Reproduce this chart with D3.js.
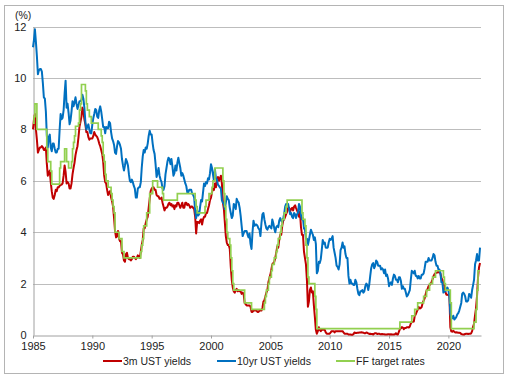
<!DOCTYPE html>
<html>
<head>
<meta charset="utf-8">
<script src="https://cdn.jsdelivr.net/npm/d3@7"></script>
<style>
  body { margin: 0; background: #fff; }
  svg { font-family: "Liberation Sans", Arial, sans-serif; }
</style>
</head>
<body>
<div id="the_chart"></div>
<script>
// monthly series, first value = Jan 1985
let startYear = 1985;

let ust3m = [
  8.0, 8.4, 8.6, 8.0, 7.6, 7.1, 7.2, 7.3, 7.3, 7.35, 7.3, 7.2,        // 1985
  7.2, 7.3, 6.7, 6.2, 6.3, 6.4, 5.95, 5.6, 5.35, 5.3, 5.45, 5.65,     // 1986
  5.6, 5.75, 5.75, 5.8, 5.85, 5.85, 5.9, 6.2, 6.6, 6.35, 5.9, 5.95,   // 1987
  5.9, 5.7, 5.7, 5.9, 6.25, 6.5, 6.7, 7.0, 7.2, 7.35, 7.7, 8.1,       // 1988
  8.3, 8.5, 8.85, 8.7, 8.4, 8.2, 7.9, 7.9, 7.7, 7.6, 7.65, 7.65,      // 1989
  7.65, 7.75, 7.9, 7.8, 7.75, 7.7, 7.6, 7.45, 7.35, 7.2, 7.05, 6.75,  // 1990
  6.2, 5.95, 5.9, 5.65, 5.45, 5.55, 5.6, 5.35, 5.2, 5.0, 4.55, 4.05,  // 1991
  3.8, 3.85, 4.05, 3.75, 3.65, 3.65, 3.2, 3.15, 2.9, 2.85, 3.15, 3.2, // 1992
  3.0, 2.95, 2.95, 2.9, 2.95, 3.05, 3.05, 3.0, 2.95, 3.0, 3.1, 3.05,  // 1993
  3.0, 3.25, 3.5, 3.7, 4.15, 4.15, 4.35, 4.5, 4.6, 4.95, 5.3, 5.6,    // 1994
  5.7, 5.75, 5.75, 5.65, 5.65, 5.45, 5.4, 5.4, 5.3, 5.3, 5.35, 5.15,  // 1995
  5.0, 4.85, 4.95, 4.95, 5.0, 5.1, 5.15, 5.05, 5.1, 5.0, 5.05, 4.9,   // 1996
  5.05, 5.0, 5.15, 5.15, 5.05, 4.95, 5.05, 5.15, 4.95, 4.95, 5.15, 5.15, // 1997
  5.05, 5.1, 5.05, 4.95, 5.0, 5.0, 4.95, 4.9, 4.6, 3.95, 4.4, 4.4,    // 1998
  4.35, 4.45, 4.5, 4.3, 4.5, 4.6, 4.6, 4.75, 4.75, 4.9, 5.05, 5.25,   // 1999
  5.35, 5.55, 5.7, 5.65, 5.9, 5.75, 6.05, 6.15, 6.0, 6.1, 6.2, 5.9,   // 2000
  5.15, 4.9, 4.4, 3.85, 3.6, 3.5, 3.5, 3.35, 2.65, 2.15, 1.85, 1.7,   // 2001
  1.65, 1.75, 1.8, 1.7, 1.75, 1.7, 1.7, 1.6, 1.65, 1.6, 1.25, 1.2,    // 2002
  1.15, 1.15, 1.15, 1.15, 1.1, 0.9, 0.9, 0.95, 0.95, 0.95, 0.95, 0.9, // 2003
  0.9, 0.95, 0.95, 0.95, 1.05, 1.3, 1.35, 1.5, 1.65, 1.75, 2.05, 2.2, // 2004
  2.35, 2.55, 2.75, 2.8, 2.85, 3.0, 3.2, 3.45, 3.4, 3.7, 3.9, 3.9,    // 2005
  4.25, 4.45, 4.5, 4.6, 4.7, 4.8, 4.95, 4.95, 4.8, 4.9, 4.95, 4.85,   // 2006
  5.0, 5.05, 4.95, 4.85, 4.75, 4.6, 4.8, 4.2, 3.9, 3.9, 3.25, 3.0,    // 2007
  2.75, 2.1, 1.1, 1.3, 1.75, 1.85, 1.65, 1.7, 1.15, 0.7, 0.2, 0.05,   // 2008
  0.15, 0.3, 0.2, 0.15, 0.2, 0.2, 0.2, 0.2, 0.1, 0.05, 0.05, 0.05,    // 2009
  0.05, 0.1, 0.15, 0.15, 0.15, 0.1, 0.15, 0.15, 0.15, 0.15, 0.15, 0.15, // 2010
  0.15, 0.15, 0.1, 0.05, 0.05, 0.05, 0.05, 0.02, 0.02, 0.02, 0.01, 0.01, // 2011
  0.03, 0.1, 0.08, 0.08, 0.09, 0.09, 0.1, 0.1, 0.11, 0.1, 0.09, 0.07, // 2012
  0.07, 0.1, 0.09, 0.06, 0.04, 0.05, 0.04, 0.04, 0.02, 0.05, 0.07, 0.07, // 2013
  0.04, 0.05, 0.05, 0.03, 0.03, 0.04, 0.03, 0.03, 0.02, 0.02, 0.02, 0.03, // 2014
  0.03, 0.02, 0.03, 0.02, 0.02, 0.02, 0.03, 0.07, 0.02, 0.02, 0.13, 0.23, // 2015
  0.26, 0.31, 0.29, 0.23, 0.27, 0.27, 0.3, 0.3, 0.29, 0.33, 0.45, 0.51, // 2016
  0.51, 0.52, 0.74, 0.8, 0.9, 0.99, 1.09, 1.03, 1.05, 1.09, 1.25, 1.34, // 2017
  1.43, 1.59, 1.73, 1.79, 1.9, 1.94, 1.99, 2.07, 2.17, 2.29, 2.37, 2.41, // 2018
  2.42, 2.44, 2.45, 2.43, 2.4, 2.22, 2.15, 1.99, 1.93, 1.68, 1.57, 1.57, // 2019
  1.55, 1.54, 0.3, 0.14, 0.13, 0.16, 0.13, 0.1, 0.11, 0.1, 0.09, 0.09, // 2020
  0.08, 0.04, 0.03, 0.02, 0.02, 0.04, 0.05, 0.05, 0.04, 0.05, 0.05, 0.06, // 2021
  0.15, 0.33, 0.44, 0.76, 1.05, 1.52, 2.23, 2.63, 2.8                 // 2022
];

let ust10y = [
  11.2, 11.5, 11.9, 11.4, 10.85, 10.15, 10.3, 10.35, 10.35, 10.25, 9.8, 9.25, // 1985
  9.2, 8.7, 7.8, 7.3, 7.7, 7.8, 7.3, 7.15, 7.45, 7.45, 7.25, 7.1,     // 1986
  7.1, 7.25, 7.25, 8.0, 8.6, 8.4, 8.45, 8.75, 9.4, 9.9, 8.85, 9.0,    // 1987
  8.65, 8.2, 8.35, 8.7, 9.1, 8.9, 9.05, 9.25, 9.0, 8.8, 8.95, 9.1,    // 1988
  9.1, 9.15, 9.35, 9.2, 8.85, 8.3, 8.0, 8.1, 8.2, 8.0, 7.85, 7.85,    // 1989
  8.2, 8.45, 8.6, 8.8, 8.75, 8.5, 8.45, 8.75, 8.9, 8.7, 8.4, 8.1,     // 1990
  8.1, 7.85, 8.1, 8.05, 8.05, 8.3, 8.25, 7.9, 7.65, 7.55, 7.4, 7.1,   // 1991
  7.05, 7.35, 7.55, 7.5, 7.4, 7.25, 6.85, 6.6, 6.4, 6.6, 6.85, 6.75,  // 1992
  6.6, 6.25, 6.0, 5.95, 6.05, 5.95, 5.8, 5.7, 5.35, 5.35, 5.7, 5.75,  // 1993
  5.75, 5.95, 6.5, 6.95, 7.2, 7.1, 7.3, 7.25, 7.45, 7.75, 7.95, 7.8,  // 1994
  7.8, 7.45, 7.2, 7.05, 6.65, 6.15, 6.3, 6.5, 6.2, 6.05, 5.95, 5.7,   // 1995
  5.65, 5.8, 6.25, 6.5, 6.75, 6.9, 6.85, 6.65, 6.85, 6.55, 6.2, 6.3,  // 1996
  6.6, 6.4, 6.7, 6.9, 6.7, 6.5, 6.2, 6.3, 6.2, 6.05, 5.9, 5.8,        // 1997
  5.55, 5.55, 5.65, 5.65, 5.65, 5.5, 5.45, 5.35, 4.8, 4.55, 4.85, 4.65, // 1998
  4.7, 5.0, 5.25, 5.2, 5.55, 5.9, 5.8, 5.95, 5.9, 6.1, 6.05, 6.3,     // 1999
  6.65, 6.5, 6.25, 6.0, 6.45, 6.1, 6.05, 5.85, 5.8, 5.75, 5.7, 5.25,  // 2000
  5.15, 5.1, 4.9, 5.15, 5.4, 5.3, 5.25, 4.95, 4.75, 4.55, 4.65, 5.1,  // 2001
  5.05, 4.9, 5.3, 5.2, 5.15, 4.95, 4.65, 4.25, 3.85, 3.95, 4.05, 4.05, // 2002
  4.05, 3.9, 3.8, 3.95, 3.55, 3.35, 4.0, 4.45, 4.25, 4.3, 4.3, 4.25,  // 2003
  4.15, 4.1, 3.85, 4.35, 4.7, 4.75, 4.5, 4.3, 4.15, 4.1, 4.2, 4.25,   // 2004
  4.2, 4.15, 4.5, 4.35, 4.15, 4.0, 4.2, 4.25, 4.2, 4.45, 4.55, 4.45,  // 2005
  4.4, 4.55, 4.7, 5.0, 5.1, 5.1, 5.1, 4.9, 4.7, 4.75, 4.6, 4.55,      // 2006
  4.75, 4.7, 4.55, 4.7, 4.75, 5.1, 5.0, 4.65, 4.5, 4.55, 4.15, 4.1,   // 2007
  3.75, 3.75, 3.5, 3.7, 3.9, 4.1, 4.0, 3.9, 3.7, 3.8, 3.55, 2.4,      // 2008
  2.5, 2.85, 2.8, 2.95, 3.3, 3.7, 3.55, 3.6, 3.4, 3.4, 3.4, 3.6,      // 2009
  3.75, 3.7, 3.75, 3.85, 3.4, 3.2, 3.0, 2.7, 2.65, 2.55, 2.75, 3.3,   // 2010
  3.4, 3.6, 3.4, 3.45, 3.15, 3.0, 3.0, 2.3, 2.0, 2.15, 2.0, 2.0,      // 2011
  1.95, 1.95, 2.15, 2.05, 1.8, 1.6, 1.55, 1.7, 1.7, 1.75, 1.65, 1.7,  // 2012
  1.9, 2.0, 1.95, 1.75, 1.95, 2.3, 2.6, 2.75, 2.8, 2.6, 2.7, 2.9,     // 2013
  2.85, 2.7, 2.7, 2.7, 2.55, 2.6, 2.55, 2.4, 2.55, 2.3, 2.35, 2.2,    // 2014
  1.9, 2.0, 2.05, 1.95, 2.2, 2.35, 2.3, 2.15, 2.15, 2.05, 2.25, 2.25, // 2015
  2.1, 1.8, 1.9, 1.8, 1.8, 1.65, 1.5, 1.55, 1.65, 1.75, 2.15, 2.5,    // 2016
  2.45, 2.4, 2.5, 2.3, 2.3, 2.2, 2.3, 2.2, 2.2, 2.35, 2.35, 2.4,      // 2017
  2.6, 2.85, 2.85, 2.85, 3.0, 2.9, 2.9, 2.9, 3.0, 3.15, 3.1, 2.85,    // 2018
  2.7, 2.7, 2.55, 2.55, 2.4, 2.05, 2.05, 1.65, 1.7, 1.7, 1.8, 1.85,   // 2019
  1.75, 1.5, 0.85, 0.65, 0.65, 0.75, 0.6, 0.65, 0.7, 0.8, 0.85, 0.95, // 2020
  1.1, 1.25, 1.6, 1.65, 1.6, 1.5, 1.3, 1.3, 1.35, 1.6, 1.55, 1.45,    // 2021
  1.75, 1.95, 2.15, 2.75, 2.9, 3.15, 2.9, 2.9, 3.4                    // 2022
];

// FF target rate changes
let ffDates = [
  "1985-01", "1985-02", "1985-03", "1985-05", "1986-03", "1986-04", "1986-07", "1986-08",
  "1987-04", "1987-05", "1987-09", "1987-11", "1988-01", "1988-04", "1988-05", "1988-06",
  "1988-07", "1988-08", "1988-11", "1988-12", "1989-01", "1989-02", "1989-06", "1989-07",
  "1989-08", "1989-10", "1989-12", "1990-07", "1990-10", "1990-11", "1990-12", "1991-01",
  "1991-02", "1991-03", "1991-05", "1991-08", "1991-09", "1991-10", "1991-11", "1991-12",
  "1992-04", "1992-07", "1992-09", "1994-02", "1994-03", "1994-04", "1994-05", "1994-08",
  "1994-11", "1995-02", "1995-07", "1995-12", "1996-01", "1997-03", "1998-09", "1998-10",
  "1998-11", "1999-07", "1999-08", "1999-11", "2000-02", "2000-03", "2000-05", "2001-01",
  "2001-02", "2001-03", "2001-04", "2001-05", "2001-06", "2001-08", "2001-09", "2001-10",
  "2001-11", "2001-12", "2002-11", "2003-06", "2004-07", "2004-08", "2004-09", "2004-11",
  "2004-12", "2005-02", "2005-03", "2005-05", "2005-07", "2005-08", "2005-09", "2005-11",
  "2005-12", "2006-01", "2006-03", "2006-05", "2006-06", "2007-09", "2007-10", "2007-12",
  "2008-01", "2008-02", "2008-03", "2008-04", "2008-10", "2008-11", "2008-12", "2015-12",
  "2016-12", "2017-03", "2017-06", "2017-12", "2018-03", "2018-06", "2018-09", "2018-12",
  "2019-08", "2019-09", "2019-10", "2020-03", "2020-04", "2022-03", "2022-05", "2022-06",
  "2022-07", "2022-09"
];
let ffRates = [
  8.25, 8.5, 9.0, 8.0, 7.25, 6.75, 6.375, 5.875,
  6.5, 6.75, 7.25, 6.75, 6.5, 6.75, 7.25, 7.5,
  7.75, 8.125, 8.25, 8.75, 9.0, 9.75, 9.5, 9.0,
  8.75, 8.5, 8.25, 8.0, 7.75, 7.5, 7.0, 6.75,
  6.25, 6.0, 5.75, 5.5, 5.25, 5.0, 4.75, 4.0,
  3.75, 3.25, 3.0, 3.25, 3.5, 3.75, 4.25, 4.75,
  5.5, 6.0, 5.75, 5.5, 5.25, 5.5, 5.25, 5.0,
  4.75, 5.0, 5.25, 5.5, 5.75, 6.0, 6.5, 6.0,
  5.5, 5.0, 4.5, 4.0, 3.75, 3.5, 3.0, 2.5,
  2.0, 1.75, 1.25, 1.0, 1.25, 1.5, 1.75, 2.0,
  2.25, 2.5, 2.75, 3.0, 3.25, 3.5, 3.75, 4.0,
  4.25, 4.5, 4.75, 5.0, 5.25, 4.75, 4.5, 4.25,
  3.5, 3.0, 2.25, 2.0, 1.5, 1.0, 0.25, 0.5,
  0.75, 1.0, 1.25, 1.5, 1.75, 2.0, 2.25, 2.5,
  2.25, 2.0, 1.75, 1.25, 0.25, 0.5, 1.0, 1.75,
  2.5, 2.5
];

let yTicks = [0, 2, 4, 6, 8, 10, 12];
let seriesNames = ["3m UST yields", "10yr UST yields", "FF target rates"];
let seriesColors = ["#c00000", "#0070c0", "#92d050"];

gen_vis();

function gen_vis() {
    var w = 512, h = 379;
    var parseMonth = d3.timeParse("%Y-%m");

    var monthly3m = ust3m.map(function(v, i) { return { date: new Date(startYear, i, 1), value: v }; });
    var monthly10y = ust10y.map(function(v, i) { return { date: new Date(startYear, i, 1), value: v }; });
    var ff = ffDates.map(function(d, i) { return { date: parseMonth(d), value: ffRates[i] }; });

    var xscale = d3.scaleTime()
        .domain([new Date(1985, 0, 1), new Date(2022, 9, 1)])
        .range([33, 481]);
    var yscale = d3.scaleLinear()
        .domain([0, 12])
        .range([335, 26.7]);

    var svg = d3.select("#the_chart").append("svg")
        .attr("width", w)
        .attr("height", h);

    // outer frame
    svg.append("rect")
        .attr("x", 4.5).attr("y", 5.5)
        .attr("width", 499).attr("height", 368)
        .attr("fill", "none")
        .attr("stroke", "#b4b4b4");

    // gridlines
    svg.append("g")
        .selectAll("line")
        .data(yTicks.filter(function(d) { return d > 0; }))
        .enter().append("line")
        .attr("x1", 33).attr("x2", 481)
        .attr("y1", function(d) { return Math.round(yscale(d)) + 0.5; })
        .attr("y2", function(d) { return Math.round(yscale(d)) + 0.5; })
        .attr("stroke", "#bdbdbd");

    var yaxis = d3.axisLeft(yscale)
        .tickValues(yTicks)
        .tickSize(0)
        .tickPadding(7);
    var gy = svg.append("g")
        .attr("transform", "translate(33.5,0)")
        .call(yaxis);
    gy.select(".domain").attr("stroke", "#a0a0a0");
    gy.selectAll("text").attr("font-size", 11).attr("fill", "#222")
        .attr("font-family", "Liberation Sans, Arial, sans-serif");

    var xaxis = d3.axisBottom(xscale)
        .ticks(d3.timeYear.every(5))
        .tickFormat(d3.timeFormat("%Y"))
        .tickSizeInner(3)
        .tickSizeOuter(0)
        .tickPadding(4);
    var gx = svg.append("g")
        .attr("transform", "translate(0," + (Math.round(yscale(0)) + 0.5) + ")")
        .call(xaxis);
    gx.select(".domain").attr("stroke", "#a0a0a0");
    gx.selectAll(".tick line").attr("stroke", "#a0a0a0");
    gx.selectAll("text").attr("font-size", 11).attr("fill", "#222")
        .attr("font-family", "Liberation Sans, Arial, sans-serif");

    svg.append("text")
        .attr("x", 15).attr("y", 19)
        .attr("font-size", 10.5)
        .attr("fill", "#222")
        .text("(%)");

    var line = d3.line()
        .x(function(d) { return xscale(d.date); })
        .y(function(d) { return yscale(d.value); });
    var stepLine = d3.line()
        .x(function(d) { return xscale(d.date); })
        .y(function(d) { return yscale(d.value); })
        .curve(d3.curveStepAfter);

    svg.append("path").datum(monthly3m)
        .attr("d", line)
        .attr("fill", "none").attr("stroke", seriesColors[0])
        .attr("stroke-width", 2).attr("stroke-linejoin", "round");
    svg.append("path").datum(monthly10y)
        .attr("d", line)
        .attr("fill", "none").attr("stroke", seriesColors[1])
        .attr("stroke-width", 2).attr("stroke-linejoin", "round");
    svg.append("path").datum(ff)
        .attr("d", stepLine)
        .attr("fill", "none").attr("stroke", seriesColors[2])
        .attr("stroke-width", 1.7);

    // legend
    var legendX = [103, 217, 336];
    var lg = svg.append("g").selectAll("g")
        .data(seriesNames)
        .enter().append("g")
        .attr("transform", function(d, i) { return "translate(" + legendX[i] + ",361)"; });
    lg.append("line")
        .attr("x1", 0).attr("x2", 19)
        .attr("stroke", function(d, i) { return seriesColors[i]; })
        .attr("stroke-width", 2);
    lg.append("text")
        .attr("x", 20).attr("y", 4)
        .attr("font-size", 10.5)
        .attr("fill", "#222")
        .text(function(d) { return d; });
}
</script>
</body>
</html>
